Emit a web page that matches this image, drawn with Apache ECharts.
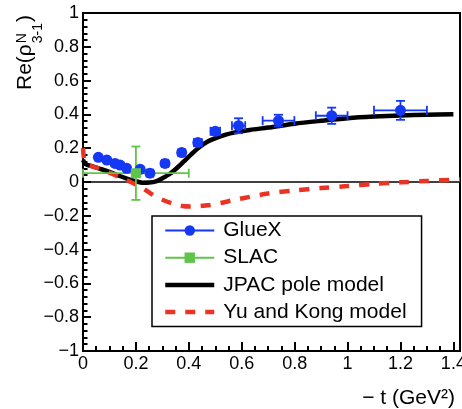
<!DOCTYPE html>
<html>
<head>
<meta charset="utf-8">
<script src="https://cdn.jsdelivr.net/npm/echarts@6/dist/echarts.min.js"></script>
<style>
  html, body { margin: 0; padding: 0; background: #fff; }
  #chart { width: 462px; height: 409px; }
</style>
</head>
<body>
<div id="chart"></div>
<script>
const FONT = '"Liberation Sans", Arial, Helvetica, sans-serif';
const BLUE = '#1538f5';
const GREEN = '#5fc54a';
const RED = '#eb3323';

// GlueX points: -t, value, -t half width, value error
const gluexT = [0.058, 0.090, 0.121, 0.140, 0.165, 0.216, 0.253, 0.310, 0.373, 0.434, 0.500, 0.588, 0.739, 0.940, 1.200];
const gluexV = [0.146, 0.130, 0.110, 0.100, 0.081, 0.075, 0.052, 0.110, 0.174, 0.233, 0.300, 0.333, 0.363, 0.392, 0.424];
const gluexTErr = [0.008, 0.008, 0.008, 0.008, 0.010, 0.010, 0.012, 0.012, 0.012, 0.015, 0.018, 0.025, 0.060, 0.060, 0.100];
const gluexVErr = [0.012, 0.012, 0.012, 0.013, 0.013, 0.014, 0.015, 0.015, 0.016, 0.018, 0.020, 0.044, 0.035, 0.048, 0.056];

// SLAC point
const slacT = [0.200];
const slacV = [0.052];
const slacTErr = [0.200];
const slacVErr = [0.158];

// JPAC pole model curve
const jpacT = [0.000, 0.010, 0.030, 0.060, 0.100, 0.130, 0.163, 0.200, 0.226, 0.250, 0.276, 0.300, 0.330, 0.360, 0.380, 0.410, 0.443, 0.470, 0.506, 0.540, 0.570, 0.630, 0.700, 0.800, 0.900, 1.000, 1.100, 1.200, 1.300, 1.400];
const jpacV = [0.130, 0.105, 0.095, 0.080, 0.060, 0.040, 0.022, 0.004, -0.004, -0.003, 0.004, 0.022, 0.050, 0.090, 0.120, 0.165, 0.210, 0.238, 0.262, 0.280, 0.292, 0.308, 0.322, 0.345, 0.362, 0.377, 0.387, 0.394, 0.398, 0.401];

// Yu and Kong model curve
const ykT = [0.000, 0.008, 0.030, 0.060, 0.100, 0.130, 0.163, 0.200, 0.226, 0.250, 0.276, 0.300, 0.340, 0.370, 0.405, 0.440, 0.480, 0.520, 0.570, 0.630, 0.700, 0.800, 0.900, 1.000, 1.100, 1.200, 1.300, 1.425];
const ykV = [0.200, 0.115, 0.095, 0.080, 0.055, 0.035, 0.012, -0.015, -0.037, -0.062, -0.087, -0.105, -0.128, -0.140, -0.145, -0.143, -0.136, -0.124, -0.107, -0.088, -0.068, -0.050, -0.036, -0.024, -0.011, -0.002, 0.006, 0.015];

const X_MAX = 1.425;

const zip = (...cols) => cols[0].map((_, i) => cols.map((c) => c[i]));

const fmtNum = (v) => {
  const r = Math.round(v * 10) / 10;
  if (Math.abs(r) < 1e-9) return '0';
  return String(r).replace('-', '\u2212');
};

// error bars with end caps
const errorBars = (color, cap) => (params, api) => {
  const x = api.value(0), y = api.value(1), ex = api.value(2), ey = api.value(3);
  const c = api.coord([x, y]);
  const l = api.coord([x - ex, y]);
  const r = api.coord([x + ex, y]);
  const t = api.coord([x, y + ey]);
  const b = api.coord([x, y - ey]);
  const style = { stroke: color, lineWidth: 1.8 };
  const line = (x1, y1, x2, y2) => ({ type: 'line', shape: { x1, y1, x2, y2 }, style });
  return {
    type: 'group',
    children: [
      line(l[0], c[1], r[0], c[1]),
      line(c[0], t[1], c[0], b[1]),
      line(l[0], c[1] - cap, l[0], c[1] + cap),
      line(r[0], c[1] - cap, r[0], c[1] + cap),
      line(c[0] - cap, t[1], c[0] + cap, t[1]),
      line(c[0] - cap, b[1], c[0] + cap, b[1]),
    ],
  };
};

const ctx = document.createElement('canvas').getContext('2d');
const textW = (s, size) => { ctx.font = size + 'px ' + FONT; return ctx.measureText(s).width; };
const mainW = textW('Re(\u03c1', 21);
const scriptW = Math.max(textW('N', 14), textW('3-1', 14));

const chart = echarts.init(document.getElementById('chart'), null, { renderer: 'canvas' });

const axisText = { color: '#000', fontSize: 18, fontFamily: FONT };
const tickLine = { color: '#000', width: 2 };

chart.setOption({
  animation: false,
  backgroundColor: '#fff',
  grid: {
    left: 83, right: 2, top: 13, bottom: 58,
    show: true, borderColor: '#000', borderWidth: 2,
    backgroundColor: 'transparent',
    containLabel: false, outerBoundsMode: 'none',
  },
  xAxis: [
    {
      type: 'value', min: 0, max: X_MAX, interval: 0.2, position: 'bottom',
      axisLine: { show: true, onZero: false, lineStyle: { color: '#000', width: 2 } },
      axisTick: { show: true, inside: true, length: 9, lineStyle: tickLine },
      minorTick: { show: false },
      splitLine: { show: false },
      axisLabel: {
        ...axisText, margin: 4,
        formatter: (v) => (Math.abs(v / 0.2 - Math.round(v / 0.2)) > 1e-6 ? '' : fmtNum(v)),
      },
    },
    {
      // minor ticks every 0.05
      type: 'value', min: 0, max: X_MAX, interval: 0.05, position: 'bottom',
      axisLine: { show: false, onZero: false },
      axisTick: { show: true, inside: true, length: 5, lineStyle: tickLine },
      splitLine: { show: false },
      axisLabel: { show: false },
    },
  ],
  yAxis: {
    type: 'value', min: -1, max: 1, interval: 0.2,
    axisLine: { show: true, onZero: false, lineStyle: { color: '#000', width: 2 } },
    axisTick: { show: true, inside: true, length: 8, lineStyle: tickLine },
    minorTick: { show: true, splitNumber: 5, length: 4.5, lineStyle: tickLine },
    splitLine: { show: false },
    axisLabel: { ...axisText, margin: 4, formatter: fmtNum },
  },
  legend: {
    left: 152, top: 216, orient: 'vertical',
    selectedMode: false,
    itemWidth: 49, itemHeight: 13, itemGap: 6.2,
    padding: [4, 15, 4, 11],
    borderColor: '#000', borderWidth: 1.5, borderRadius: 0,
    backgroundColor: '#fff',
    textStyle: { color: '#000', fontSize: 21, fontFamily: FONT, lineHeight: 13, padding: [0, 0, 0, 4] },
    data: [
      { name: 'GlueX', lineStyle: { opacity: 1, width: 2, color: BLUE }, itemStyle: { color: BLUE, opacity: 1, borderWidth: 0 } },
      { name: 'SLAC', lineStyle: { opacity: 1, width: 2, color: GREEN }, itemStyle: { color: GREEN, opacity: 1, borderWidth: 0 } },
      { name: 'JPAC pole model', lineStyle: { opacity: 1, width: 4.5 }, itemStyle: { opacity: 0 } },
      { name: 'Yu and Kong model', lineStyle: { opacity: 1, width: 4.5 }, itemStyle: { opacity: 0 } },
    ],
  },
  graphic: [
    {
      type: 'group', x: 0, y: 90, rotation: Math.PI / 2, silent: true,
      children: [
        { type: 'text', x: 0, y: 25, style: { text: 'Re(\u03c1', font: '21px ' + FONT, fill: '#000', align: 'left', verticalAlign: 'middle' } },
        { type: 'text', x: mainW + 1, y: 22, style: { text: 'N', font: '14px ' + FONT, fill: '#000', align: 'left', verticalAlign: 'middle' } },
        { type: 'text', x: mainW + 1, y: 38, style: { text: '3-1', font: '14px ' + FONT, fill: '#000', align: 'left', verticalAlign: 'middle' } },
        { type: 'text', x: mainW + 2 + scriptW, y: 25, style: { text: ')', font: '21px ' + FONT, fill: '#000', align: 'left', verticalAlign: 'middle' } },
      ],
    },
    {
      type: 'text', x: 455, y: 398, silent: true,
      style: { text: '\u2212 t (GeV\u00b2)', font: '21px ' + FONT, fill: '#000', align: 'right', verticalAlign: 'middle' },
    },
  ],
  series: [
    {
      name: 'JPAC pole model', type: 'line', z: 2,
      data: zip(jpacT, jpacV),
      smooth: 0.3, showSymbol: false, symbol: 'none',
      color: '#000',
      lineStyle: { color: '#000', width: 4.5 },
      markLine: {
        silent: true, symbol: 'none', z: 1,
        label: { show: false },
        lineStyle: { color: '#000', width: 1.5, type: 'solid' },
        data: [{ yAxis: 0 }],
      },
    },
    {
      name: 'Yu and Kong model', type: 'line', z: 3,
      data: zip(ykT, ykV),
      smooth: 0.3, showSymbol: false, symbol: 'none',
      color: RED,
      lineStyle: { color: RED, width: 4.5, type: [10, 10] },
    },
    {
      name: 'gluexErr', type: 'custom', z: 4,
      renderItem: errorBars(BLUE, 4.5),
      data: zip(gluexT, gluexV, gluexTErr, gluexVErr),
      encode: { x: 0, y: 1 },
    },
    {
      name: 'slacErr', type: 'custom', z: 4,
      renderItem: errorBars(GREEN, 4.5),
      data: zip(slacT, slacV, slacTErr, slacVErr),
      encode: { x: 0, y: 1 },
    },
    {
      name: 'GlueX', type: 'line', z: 5,
      data: zip(gluexT, gluexV),
      color: BLUE,
      symbol: 'circle', symbolSize: 11, showAllSymbol: true,
      itemStyle: { color: BLUE },
      lineStyle: { opacity: 0, color: BLUE },
    },
    {
      name: 'SLAC', type: 'line', z: 5,
      data: zip(slacT, slacV),
      color: GREEN,
      symbol: 'rect', symbolSize: 10, showAllSymbol: true,
      itemStyle: { color: GREEN },
      lineStyle: { opacity: 0, color: GREEN },
    },
  ],
});
</script>
</body>
</html>
